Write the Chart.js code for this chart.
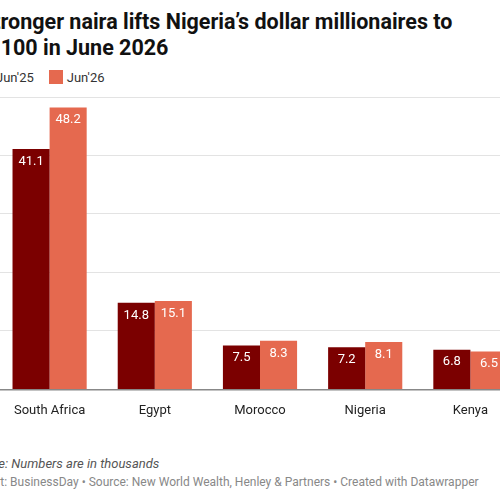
<!DOCTYPE html>
<html><head><meta charset="utf-8">
<script src="https://cdn.jsdelivr.net/npm/chart.js@4"></script>
<style>
html,body{margin:0;width:500px;height:500px;overflow:hidden;background:#fff;font-family:Roboto,sans-serif;position:relative}
.t{position:absolute;white-space:nowrap}
</style></head><body>
<div class="t" style="left:-20px;top:9px;font-size:21.5px;font-weight:700;color:#111;line-height:26px">Stronger naira lifts Nigeria’s dollar millionaires to<br><span style="margin-left:3px">8,100 in June 2026</span></div>
<div class="t" style="left:-22px;top:70px;font-size:13px;color:#333"><span style="display:inline-block;width:14px;height:14px;background:#7b0000;vertical-align:-2px;margin-right:4px"></span>Jun'25<span style="display:inline-block;width:14px;height:14px;background:#e5694f;vertical-align:-2px;margin:0 4px 0 15px"></span>Jun'26</div>
<div style="position:absolute;left:-3px;top:90px;width:526px;height:335px"><canvas id="c"></canvas></div>
<div class="t" style="left:-22px;top:456px;font-size:13px;font-style:italic;color:#555">Note: Numbers are in thousands</div>
<div class="t" style="left:-25px;top:475px;font-size:12px;color:#888">Chart: BusinessDay • Source: New World Wealth, Henley &amp; Partners • Created with Datawrapper</div>
<script>
const categories=["South Africa","Egypt","Morocco","Nigeria","Kenya"];
const jun25=[41.1,14.8,7.5,7.2,6.8];
const jun26=[48.2,15.1,8.3,8.1,6.5];
const labelsPlugin={id:'vl',afterDatasetsDraw(ch){const c=ch.ctx;c.save();c.fillStyle='#fff';c.font='13px Roboto';c.textAlign='center';c.textBaseline='top';
ch.data.datasets.forEach((d,i)=>{ch.getDatasetMeta(i).data.forEach((b,j)=>{c.fillText(d.data[j].toFixed(1),b.x,b.y+6);});});c.restore();}};
new Chart(document.getElementById('c'),{type:'bar',
data:{labels:categories,datasets:[{label:"Jun'25",data:jun25,backgroundColor:'#7b0000'},{label:"Jun'26",data:jun26,backgroundColor:'#e5694f'}]},
options:{responsive:true,maintainAspectRatio:false,animation:false,layout:{padding:{top:7}},
plugins:{legend:{display:false},tooltip:{enabled:false}},
datasets:{bar:{categoryPercentage:0.705,barPercentage:1}},
scales:{x:{grid:{display:false},border:{color:'#888',width:1.5},ticks:{color:'#222',font:{size:13,family:'Roboto'},padding:6}},
y:{min:0,max:50,ticks:{display:false,stepSize:10},grid:{color:'#e3e3e3',drawTicks:false},border:{display:false}}}},
plugins:[labelsPlugin]});
</script></body></html>
